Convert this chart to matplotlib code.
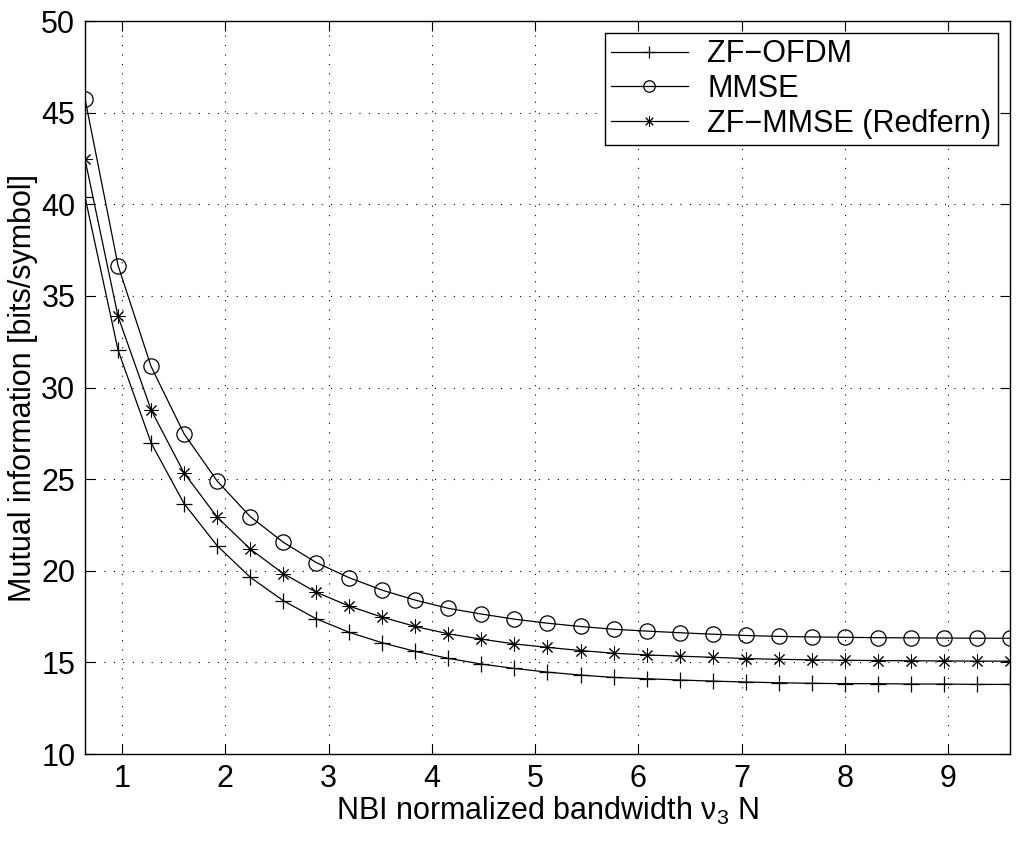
import numpy as np
import matplotlib
matplotlib.use("Agg")
import matplotlib.pyplot as plt

plt.rcParams['font.family'] = ['Liberation Sans', 'DejaVu Sans']
plt.rcParams['mathtext.default'] = 'regular'

x = [0.64, 0.96, 1.28, 1.60, 1.92, 2.24, 2.56, 2.88, 3.20, 3.52, 3.84, 4.16,
     4.48, 4.80, 5.12, 5.44, 5.76, 6.08, 6.40, 6.72, 7.04, 7.36, 7.68, 8.00,
     8.32, 8.64, 8.96, 9.28, 9.60]

zf_ofdm = [40.4, 32.04, 26.98, 23.66, 21.37, 19.65, 18.37, 17.38, 16.64, 16.07,
           15.60, 15.22, 14.91, 14.67, 14.47, 14.31, 14.18, 14.11, 14.04, 13.98,
           13.93, 13.89, 13.86, 13.84, 13.84, 13.82, 13.82, 13.80, 13.80]

mmse = [45.75, 36.66, 31.15, 27.47, 24.90, 22.96, 21.56, 20.45, 19.62, 18.94,
        18.40, 17.95, 17.64, 17.36, 17.14, 16.96, 16.81, 16.71, 16.62, 16.54,
        16.47, 16.42, 16.39, 16.37, 16.35, 16.34, 16.33, 16.32, 16.32]

zf_mmse = [42.45, 33.88, 28.78, 25.33, 22.93, 21.19, 19.85, 18.83, 18.07, 17.47,
           16.96, 16.56, 16.27, 16.01, 15.82, 15.65, 15.50, 15.41, 15.34, 15.28,
           15.21, 15.17, 15.14, 15.12, 15.10, 15.09, 15.08, 15.07, 15.07]

labels = ['ZF\u2212OFDM', 'MMSE', 'ZF\u2212MMSE (Redfern)']

FS = 22

fig = plt.figure(figsize=(10.16, 8.44), dpi=100)
ax = fig.add_axes([0.0837, 0.1066, 0.9103, 0.8684])

lw = 0.9
ax.plot(x, zf_ofdm, color='black', lw=lw, marker='+', markersize=12,
        markeredgewidth=0.9, label=labels[0])
ax.plot(x, mmse, color='black', lw=lw, marker='o', markersize=11,
        markerfacecolor='none', markeredgewidth=0.9, label=labels[1])
ax.plot(x, zf_mmse, color='black', lw=lw, marker=(8, 2, 0), markersize=10,
        markeredgewidth=0.7, label=labels[2])

ax.set_xlim(0.64, 9.6)
ax.set_ylim(10, 50)
ax.set_xticks(range(1, 10))
ax.set_yticks(range(10, 51, 5))

ax.grid(True, which='major', color='black', linestyle=(0, (1, 7.5)), linewidth=0.8)
ax.tick_params(direction='in', length=7, width=0.8, top=True, right=True,
               labelsize=FS, pad=7)
for s in ax.spines.values():
    s.set_linewidth(1.0)

ax.set_xlabel(r'NBI normalized bandwidth $\nu_3$ N', fontsize=FS, labelpad=1)
ax.set_ylabel('Mutual information [bits/symbol]', fontsize=FS, labelpad=2)

leg = ax.legend(loc='upper right', fontsize=FS, frameon=True, fancybox=False,
                edgecolor='black', framealpha=1, handlelength=2.5,
                borderaxespad=0.4, borderpad=0.2, labelspacing=0.15,
                handletextpad=0.65, markerscale=0.75)
leg.get_frame().set_linewidth(1.0)

fig.savefig('out.png', dpi=100)
